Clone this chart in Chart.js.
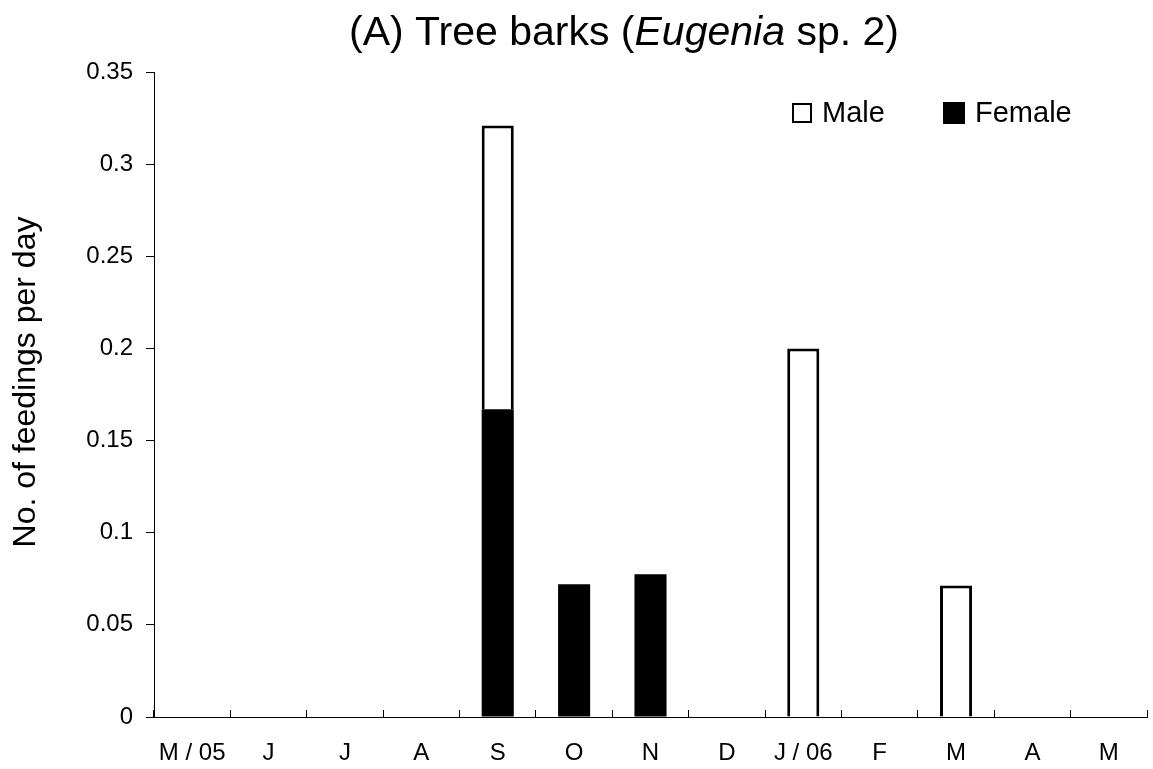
<!DOCTYPE html>
<html>
<head>
<meta charset="utf-8">
<script src="https://cdn.jsdelivr.net/npm/chart.js@4"></script>
<style>
  html, body { margin: 0; padding: 0; background: #fff; }
  #wrap { width: 1153px; height: 769px; }
</style>
</head>
<body>
<div id="wrap"><canvas id="feedChart" width="1153" height="769"></canvas></div>
<script>
// monthly feeding rate on tree barks, May 2005 - May 2006
const months = ['M / 05', 'J', 'J', 'A', 'S', 'O', 'N', 'D', 'J / 06', 'F', 'M', 'A', 'M'];
const female = [0, 0, 0, 0, 0.167, 0.072, 0.0775, 0, 0, 0, 0, 0, 0];
const male = [0, 0, 0, 0, 0.154, 0, 0, 0, 0.2, 0, 0.0714, 0, 0];
const yTicks = [0, 0.05, 0.1, 0.15, 0.2, 0.25, 0.3, 0.35];

const FONT = '"Liberation Sans", Arial, sans-serif';

// title with the genus name in italics
const titlePlugin = {
    id: 'mixedTitle',
    afterDraw(chart) {
        const ctx = chart.ctx;
        const parts = [
            ['(A) Tree barks (', 'normal'],
            ['Eugenia', 'italic'],
            [' sp. 2)', 'normal'],
        ];
        let x = 349;
        ctx.save();
        ctx.fillStyle = '#000';
        ctx.textBaseline = 'alphabetic';
        ctx.textAlign = 'left';
        parts.forEach(([t, s]) => {
            ctx.font = s + ' 41px ' + FONT;
            ctx.fillText(t, x, 45);
            x += ctx.measureText(t).width;
        });
        ctx.restore();
    },
};

// rotated y-axis caption
const yTitlePlugin = {
    id: 'yCaption',
    afterDraw(chart) {
        const ctx = chart.ctx;
        ctx.save();
        ctx.translate(26, 382);
        ctx.rotate(-Math.PI / 2);
        ctx.font = '32px ' + FONT;
        ctx.fillStyle = '#000';
        ctx.textAlign = 'center';
        ctx.textBaseline = 'middle';
        ctx.fillText('No. of feedings per day', 0, 0);
        ctx.restore();
    },
};

// legend boxes sit inside the plot, top right
const legendPlugin = {
    id: 'insideLegend',
    afterDraw(chart) {
        const ctx = chart.ctx;
        const items = [
            { ds: chart.data.datasets[1], x: 792, size: 20 },
            { ds: chart.data.datasets[0], x: 943, size: 22 },
        ];
        ctx.save();
        ctx.font = '29px ' + FONT;
        ctx.textBaseline = 'middle';
        ctx.textAlign = 'left';
        items.forEach(({ ds, x, size }) => {
            const top = 113 - size / 2;
            ctx.fillStyle = ds.backgroundColor;
            ctx.fillRect(x, top, size, size);
            ctx.strokeStyle = '#000';
            ctx.lineWidth = 2;
            ctx.strokeRect(x + 1, top + 1, size - 2, size - 2);
            ctx.fillStyle = '#000';
            ctx.fillText(ds.label, x + size + 10, 114);
        });
        ctx.restore();
    },
};

new Chart(document.getElementById('feedChart'), {
    type: 'bar',
    data: {
        labels: months,
        datasets: [
            {
                label: 'Female',
                data: female,
                backgroundColor: '#000',
                borderColor: '#000',
                borderWidth: 0,
            },
            {
                label: 'Male',
                data: male,
                backgroundColor: '#fff',
                borderColor: '#000',
                borderWidth: 3,
            },
        ],
    },
    options: {
        responsive: false,
        animation: false,
        events: [],
        layout: { padding: { top: 72, right: 6, left: 0, bottom: 0 } },
        datasets: { bar: { categoryPercentage: 1, barPercentage: 0.42 } },
        plugins: {
            legend: { display: false },
            tooltip: { enabled: false },
            title: { display: false },
        },
        scales: {
            x: {
                stacked: true,
                grid: {
                    offset: true,
                    drawOnChartArea: false,
                    tickLength: -7,
                    color: '#000',
                },
                border: { display: true, color: '#000', width: 1 },
                ticks: {
                    color: '#000',
                    font: { family: FONT, size: 24 },
                    padding: 29,
                    maxRotation: 0,
                    autoSkip: false,
                },
                afterFit(scale) { scale.height = 52; },
            },
            y: {
                stacked: true,
                min: 0,
                max: 0.35,
                afterBuildTicks(scale) {
                    scale.ticks = yTicks.map((v) => ({ value: v }));
                },
                grid: {
                    drawOnChartArea: false,
                    tickLength: 8,
                    color: '#000',
                },
                border: { display: true, color: '#000', width: 1 },
                ticks: {
                    color: '#000',
                    font: { family: FONT, size: 24 },
                    padding: 13,
                    callback: (v) => String(Number(v.toFixed(2))),
                },
                afterFit(scale) { scale.width = 154; },
            },
        },
    },
    plugins: [titlePlugin, yTitlePlugin, legendPlugin],
});
</script>
</body>
</html>
